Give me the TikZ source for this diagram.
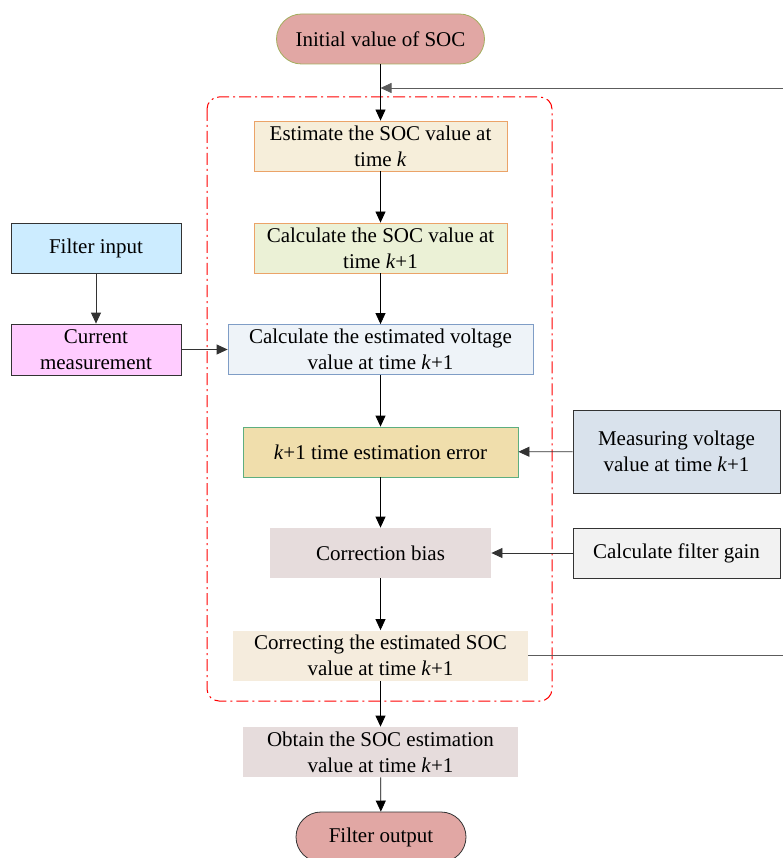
\documentclass[tikz,border=0pt]{standalone}
\usepackage{fontspec}
\setmainfont{Liberation Serif}
\usetikzlibrary{arrows.meta}

\definecolor{socred}{HTML}{E1A7A4}
\definecolor{olive}{HTML}{A3AE5E}
\definecolor{cream}{HTML}{F6EEDA}
\definecolor{orangeline}{HTML}{EBA368}
\definecolor{lightgreen}{HTML}{EBF1D6}
\definecolor{skyblue}{HTML}{CCECFF}
\definecolor{pinkbox}{HTML}{FFCCFF}
\definecolor{paleblue}{HTML}{EEF3F8}
\definecolor{steelline}{HTML}{7F9DC6}
\definecolor{wheat}{HTML}{F0DEAC}
\definecolor{greenline}{HTML}{5DAE80}
\definecolor{greyblue}{HTML}{D9E2EC}
\definecolor{lightgrey}{HTML}{F2F2F2}
\definecolor{mauve}{HTML}{E6DCDC}
\definecolor{beige}{HTML}{F5ECDD}
\definecolor{darkline}{HTML}{333333}

\begin{document}
\begin{tikzpicture}[x=1pt,y=-1pt,
    every node/.style={font=\fontsize{21}{26}\selectfont, align=center, inner sep=0pt},
    box/.style={rectangle, minimum height=50pt, line width=0.8pt},
    term/.style={rectangle, rounded corners=25pt, minimum height=50pt, line width=0.8pt},
    arr/.style={-{Triangle[length=11pt,width=10pt]}, line width=0.8pt}]
    \useasboundingbox (0,0) rectangle (783,858);

    % Main column
    \node[term, draw=olive, fill=socred, minimum width=208pt] (init) at (380.5,39) {Initial value of SOC};
    \node[box, draw=orangeline, fill=cream, minimum width=253pt] (est) at (380.5,146) {Estimate the SOC value at\\time \textit{k}};
    \node[box, draw=orangeline, fill=lightgreen, minimum width=253pt] (calc) at (380.5,248) {Calculate the SOC value at\\time \textit{k}+1};
    \node[box, draw=steelline, fill=paleblue, minimum width=305pt] (volt) at (380.5,349.5) {Calculate the estimated voltage\\value at time \textit{k}+1};
    \node[box, draw=greenline, fill=wheat, minimum width=275pt] (err) at (380.5,452) {\textit{k}+1 time estimation error};
    \node[box, fill=mauve, minimum width=221pt] (bias) at (380.5,553) {Correction bias};
    \node[box, fill=beige, minimum width=295pt] (corr) at (380.5,655.5) {Correcting the estimated SOC\\value at time \textit{k}+1};
    \node[box, fill=mauve, minimum width=275pt] (obt) at (380.5,752) {Obtain the SOC estimation\\value at time \textit{k}+1};
    \node[term, draw=darkline, fill=socred, minimum width=170pt] (out) at (381,837) {Filter output};

    % Side boxes
    \node[box, draw=darkline, fill=skyblue, minimum width=170pt] (fin) at (96,248) {Filter input};
    \node[box, draw=darkline, fill=pinkbox, minimum width=170pt, minimum height=51pt] (cur) at (96,349.5) {Current\\measurement};
    \node[box, draw=darkline, fill=greyblue, minimum width=207pt, minimum height=83pt] (meas) at (676.5,451.5) {Measuring voltage\\value at time \textit{k}+1};
    \node[box, draw=darkline, fill=lightgrey, minimum width=207pt] (gain) at (676.5,553) {Calculate filter gain};

    % Iteration frame
    \draw[red, line width=1pt, rounded corners=12pt, dash pattern=on 12pt off 4pt on 2pt off 4pt] (207,97) rectangle (552,701);

    % Connectors
    \draw[arr] (init) -- (est);
    \draw[arr] (est) -- (calc);
    \draw[arr] (calc) -- (volt);
    \draw[arr] (volt) -- (err);
    \draw[arr] (err) -- (bias);
    \draw[arr] (bias) -- (corr);
    \draw[arr] (corr) -- (obt);
    \draw[arr] (obt) -- (out);
    \draw[arr, darkline] (fin) -- (cur);
    \draw[arr, darkline] (cur) -- (volt);
    \draw[arr, darkline] (meas) -- (err);
    \draw[arr, darkline] (gain) -- (bias);

    % Feedback
    \coordinate (fb) at (380.5,88);
    \coordinate (rt) at (790,88);
    \draw[arr, darkline!80] (corr.east) -| (rt) -- (fb);
\end{tikzpicture}
\end{document}
